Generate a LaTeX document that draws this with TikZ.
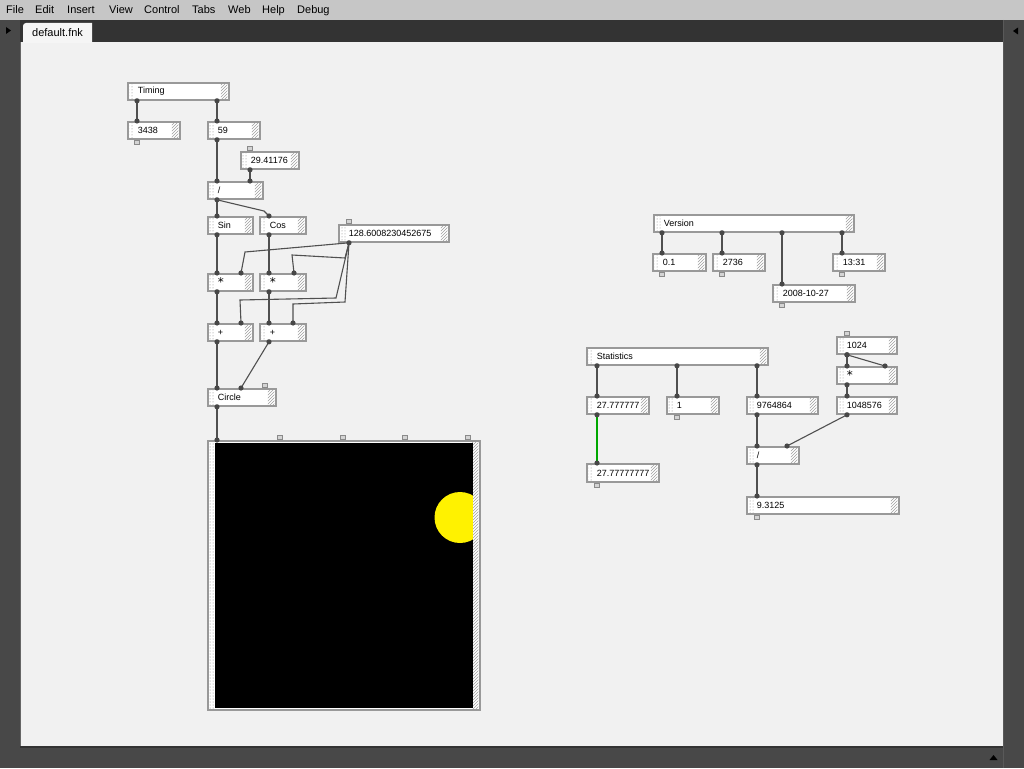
\documentclass[tikz,border=0pt]{standalone}
\usepackage{fontspec}
\setmainfont{Liberation Sans}
\newfontfamily\astfont{DejaVu Sans}
\usetikzlibrary{calc,patterns}
\definecolor{menubg}{HTML}{C6C6C6}
\definecolor{darkbg}{HTML}{484848}
\definecolor{tabbar}{HTML}{333333}
\definecolor{canvasbg}{HTML}{F1F1F1}
\definecolor{boxline}{HTML}{999999}
\definecolor{wirec}{HTML}{505050}
\definecolor{portc}{HTML}{474747}
\definecolor{greenw}{HTML}{00A800}
\definecolor{sqfill}{HTML}{D4D4D4}
\definecolor{sqline}{HTML}{8A8A8A}
\tikzset{
  fbox/.style={draw=boxline, line width=1.8pt, fill=white, inner sep=0pt,
    anchor=north west, align=left, font=\fontsize{9}{10}\selectfont,
    path picture={
      \fill[pattern=dots, pattern color=gray]
        ([xshift=1.5pt,yshift=-1.5pt]path picture bounding box.north west)
        rectangle ([xshift=6.5pt,yshift=1.5pt]path picture bounding box.south west);
      \fill[pattern=north east lines, pattern color=gray!75]
        ([xshift=-8pt,yshift=-1.5pt]path picture bounding box.north east)
        rectangle ([xshift=-1.5pt,yshift=1.5pt]path picture bounding box.south east);
    }},
  wire/.style={draw=wirec, line width=1.1pt},
  gwire/.style={draw=greenw, line width=1.4pt},
  portsq/.style={draw=sqline, fill=sqfill, line width=0.6pt},
  menu/.style={anchor=base west, inner sep=0pt, font=\fontsize{11}{12}\selectfont},
}
\newcommand\myast{\raisebox{-2pt}{\astfont\fontsize{12}{12}\selectfont *}}
% connector: source node, outlet offset, target node, inlet offset
\newcommand\conn[5][wire]{%
  \draw[#1] ($(#2.south west)+(#3,0)$) -- ($(#4.north west)+(#5,0)$);
  \fill[portc] ($(#2.south west)+(#3,0)$) circle (2.6pt)
               ($(#4.north west)+(#5,0)$) circle (2.6pt);}
\newcommand\topsq[2]{\draw[portsq] ($(#1.north west)+(#2-2.5,-0.8)$) rectangle ++(5,-3.5);}
\newcommand\botsq[2]{\draw[portsq] ($(#1.south west)+(#2-2.5,0.8)$) rectangle ++(5,3.5);}
\begin{document}
\begin{tikzpicture}[x=1pt,y=-1pt]
\useasboundingbox (0,0) rectangle (1024,768);
% window frame
\fill[darkbg] (0,0) rectangle (1024,768);
\fill[menubg] (0,0) rectangle (1024,20);
\fill[tabbar] (20,20) rectangle (1003,42);
\fill[canvasbg] (20,42) rectangle (1003,746);
\draw[gray!80!black, line width=1pt] (20.5,42) -- (20.5,746);
\draw[gray!70!black, line width=1pt] (1003.5,20) -- (1003.5,768);
\draw[tabbar, line width=2pt] (20,747) -- (1003,747);
\fill[black] (6,27) -- (11,30.5) -- (6,34) -- cycle;
\fill[black] (1018,27.5) -- (1013,31) -- (1018,34.5) -- cycle;
\fill[black] (989.5,760) -- (993.5,755) -- (997.5,760) -- cycle;
\fill[white!96!black] (23,43) -- (23,26) to[out=90,in=180] (26,23) -- (92,23) -- (92,43) -- cycle;
\node[menu] (tab) at (32,36.5) {default.fnk};
% menu
\node[menu] (m1) at (6,14) {File};
\node[menu] (m2) at (35,14) {Edit};
\node[menu] (m3) at (67,14) {Insert};
\node[menu] (m4) at (109,14) {View};
\node[menu] (m5) at (144,14) {Control};
\node[menu] (m6) at (192,14) {Tabs};
\node[menu] (m7) at (228,14) {Web};
\node[menu] (m8) at (262,14) {Help};
\node[menu] (m9) at (297,14) {Debug};

% ---------- left patch ----------
\node[fbox, text width=101pt, minimum height=17pt] (timing) at (127,82) {\hspace*{10pt}Timing};
\node[fbox, text width=52pt, minimum height=17pt] (n3438) at (127,121) {\hspace*{10pt}3438};
\node[fbox, text width=52pt, minimum height=17pt] (n59) at (207,121) {\hspace*{10pt}59};
\node[fbox, text width=58pt, minimum height=17pt] (n294) at (240,151) {\hspace*{10pt}29.41176};
\node[fbox, text width=55pt, minimum height=17pt] (div1) at (207,181) {\hspace*{10pt}/};
\node[fbox, text width=45pt, minimum height=17pt] (sin) at (207,216) {\hspace*{10pt}Sin};
\node[fbox, text width=46pt, minimum height=17pt] (cos) at (259,216) {\hspace*{10pt}Cos};
\node[fbox, text width=110pt, minimum height=17pt] (v128) at (338,224) {\hspace*{10pt}128.6008230452675};
\node[fbox, text width=45pt, minimum height=17pt] (mul1) at (207,273) {\hspace*{10pt}\myast};
\node[fbox, text width=46pt, minimum height=17pt] (mul2) at (259,273) {\hspace*{10pt}\myast};
\node[fbox, text width=45pt, minimum height=17pt] (add1) at (207,323) {\hspace*{10pt}+};
\node[fbox, text width=46pt, minimum height=17pt] (add2) at (259,323) {\hspace*{10pt}+};
\node[fbox, text width=68pt, minimum height=17pt] (circ) at (207,388) {\hspace*{10pt}Circle};
\node[fbox, text width=272pt, minimum height=269pt] (disp) at (207,440) {};
\fill[black] ($(disp.north west)+(8,3)$) rectangle ($(disp.south east)+(-8,-3)$);
\begin{scope}
  \clip ($(disp.north west)+(8,3)$) rectangle ($(disp.south east)+(-8,-3)$);
  \fill[yellow] (460,517.5) circle (25.5pt);
\end{scope}

\conn{timing}{10}{n3438}{10}
\conn{timing}{90}{n59}{10}
\conn{n59}{10}{div1}{10}
\conn{n294}{10}{div1}{43}
\conn{div1}{10}{sin}{10}
\draw[wire] ($(div1.south west)+(10,0)$) -- (264,211) -- ($(cos.north west)+(10,0)$);
\fill[portc] ($(cos.north west)+(10,0)$) circle (2.6pt);
\conn{sin}{10}{mul1}{10}
\conn{cos}{10}{mul2}{10}
\conn{mul1}{10}{add1}{10}
\conn{mul2}{10}{add2}{10}
\conn{add1}{10}{circ}{10}
\conn{add2}{10}{circ}{34}
\conn{circ}{10}{disp}{10}
% wires from 128.60...
\draw[wire] ($(v128.south west)+(11,0)$) -- (245,252) -- ($(mul1.north west)+(34,0)$);
\draw[wire] ($(v128.south west)+(11,0)$) -- (345,258) -- (292,255) -- ($(mul2.north west)+(35,0)$);
\draw[wire] ($(v128.south west)+(11,0)$) -- (336,298) -- (240,300) -- ($(add1.north west)+(34,0)$);
\draw[wire] ($(v128.south west)+(11,0)$) -- (345,302) -- (293,304) -- ($(add2.north west)+(34,0)$);
\fill[portc] ($(v128.south west)+(11,0)$) circle (2.6pt)
             ($(mul1.north west)+(34,0)$) circle (2.6pt)
             ($(mul2.north west)+(35,0)$) circle (2.6pt)
             ($(add1.north west)+(34,0)$) circle (2.6pt)
             ($(add2.north west)+(34,0)$) circle (2.6pt);
% unconnected ports
\botsq{n3438}{10}
\topsq{n294}{10}
\topsq{v128}{11}
\topsq{circ}{58}
\topsq{disp}{73}
\topsq{disp}{136}
\topsq{disp}{198}
\topsq{disp}{261}

% ---------- Version ----------
\node[fbox, text width=200pt, minimum height=17pt] (ver) at (653,214) {\hspace*{10pt}Version};
\node[fbox, text width=53pt, minimum height=17pt] (v01) at (652,253) {\hspace*{10pt}0.1};
\node[fbox, text width=52pt, minimum height=17pt] (v2736) at (712,253) {\hspace*{10pt}2736};
\node[fbox, text width=52pt, minimum height=17pt] (v1331) at (832,253) {\hspace*{10pt}13:31};
\node[fbox, text width=82pt, minimum height=17pt] (vdate) at (772,284) {\hspace*{10pt}2008-10-27};
\conn{ver}{9}{v01}{10}
\conn{ver}{69}{v2736}{10}
\conn{ver}{129}{vdate}{10}
\conn{ver}{189}{v1331}{10}
\botsq{v01}{10}
\botsq{v2736}{10}
\botsq{v1331}{10}
\botsq{vdate}{10}

% ---------- Statistics ----------
\node[fbox, text width=181pt, minimum height=17pt] (stat) at (586,347) {\hspace*{10pt}Statistics};
\node[fbox, text width=62pt, minimum height=17pt] (s27) at (586,396) {\hspace*{10pt}27.777777};
\node[fbox, text width=52pt, minimum height=17pt] (s1) at (666,396) {\hspace*{10pt}1};
\node[fbox, text width=71pt, minimum height=17pt] (s976) at (746,396) {\hspace*{10pt}9764864};
\node[fbox, text width=60pt, minimum height=17pt] (s1048) at (836,396) {\hspace*{10pt}1048576};
\node[fbox, text width=60pt, minimum height=17pt] (s1024) at (836,336) {\hspace*{10pt}1024};
\node[fbox, text width=60pt, minimum height=17pt] (smul) at (836,366) {\hspace*{10pt}\myast};
\node[fbox, text width=52pt, minimum height=17pt] (sdiv) at (746,446) {\hspace*{10pt}/};
\node[fbox, text width=72pt, minimum height=18pt] (s2777) at (586,463) {\hspace*{10pt}27.77777777};
\node[fbox, text width=152pt, minimum height=17pt] (s93) at (746,496) {\hspace*{10pt}9.3125};
\conn{stat}{11}{s27}{11}
\conn{stat}{91}{s1}{11}
\conn{stat}{171}{s976}{11}
\conn[gwire]{s27}{11}{s2777}{11}
\conn{s976}{11}{sdiv}{11}
\conn{s1048}{11}{sdiv}{41}
\conn{sdiv}{11}{s93}{11}
\conn{s1024}{11}{smul}{11}
\conn{s1024}{11}{smul}{49}
\conn{smul}{11}{s1048}{11}
\botsq{s1}{11}
\botsq{s2777}{11}
\botsq{s93}{11}
\topsq{s1024}{11}
\end{tikzpicture}
\end{document}
